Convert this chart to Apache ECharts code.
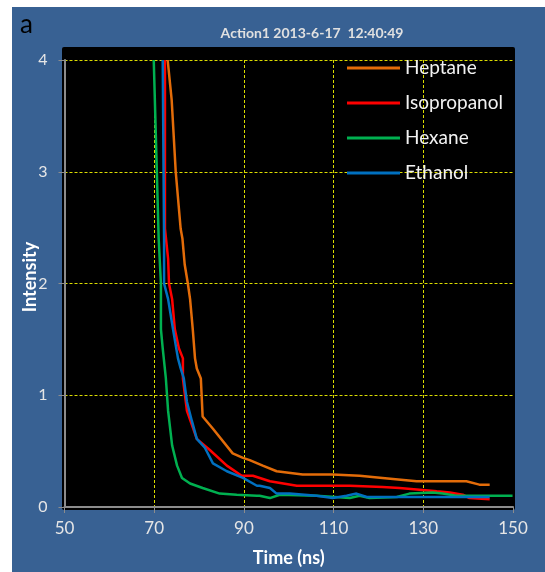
<!DOCTYPE html>
<html>
<head>
<meta charset="utf-8">
<script src="https://cdn.jsdelivr.net/npm/echarts@6/dist/echarts.min.js"></script>
<style>html,body{margin:0;padding:0;background:#fff}#c{width:545px;height:572px}</style>
</head>
<body>
<div id="c"></div>
<script>
var seriesNames = ['Heptane', 'Isopropanol', 'Hexane', 'Ethanol'];
var heptane = [[73.0,4.0],[73.9,3.64],[74.8,3.0],[75.9,2.49],[76.3,2.4],[76.8,2.17],[77.5,2.0],[78.0,1.86],[78.6,1.59],[79.1,1.33],[79.5,1.24],[80.4,1.15],[80.8,0.81],[83.1,0.70],[87.5,0.48],[89.8,0.44],[91.3,0.42],[94.2,0.37],[97.3,0.32],[103.1,0.29],[109.8,0.29],[115.8,0.28],[120.9,0.26],[128.5,0.23],[139.6,0.23],[142.5,0.20],[144.8,0.20]];
var isopropanol = [[72.4,4.0],[72.4,2.49],[73.1,2.22],[73.3,2.0],[74.0,1.86],[74.6,1.59],[75.5,1.42],[76.4,1.33],[76.4,1.15],[77.3,0.86],[79.5,0.61],[82.4,0.51],[86.2,0.37],[89.5,0.28],[92.0,0.28],[95.8,0.23],[101.8,0.19],[113.6,0.19],[120.9,0.18],[124.7,0.17],[133.0,0.14],[135.9,0.13],[138.8,0.11],[140.3,0.08],[144.8,0.07]];
var hexane = [[69.9,4.0],[71.0,2.4],[71.5,2.0],[71.5,1.59],[71.9,1.42],[72.6,1.15],[73.1,0.86],[74.0,0.55],[75.1,0.37],[76.2,0.26],[78.0,0.21],[80.8,0.17],[84.6,0.12],[88.4,0.11],[92.9,0.10],[93.5,0.10],[95.8,0.08],[98.0,0.11],[106.2,0.10],[113.6,0.08],[115.8,0.10],[118.0,0.08],[124.1,0.09],[126.9,0.12],[132.1,0.13],[134.3,0.12],[137.4,0.10],[143.2,0.10],[149.9,0.10]];
var ethanol = [[71.9,4.0],[72.2,2.4],[72.2,2.0],[73.1,1.86],[74.2,1.59],[75.3,1.33],[75.9,1.24],[76.6,1.15],[77.3,0.94],[78.4,0.77],[79.5,0.61],[81.3,0.53],[83.1,0.39],[86.2,0.32],[89.8,0.26],[92.9,0.19],[93.5,0.19],[95.8,0.17],[97.3,0.12],[100.2,0.12],[106.2,0.10],[109.8,0.08],[112.9,0.10],[115.1,0.12],[117.4,0.09],[128.5,0.09],[143.2,0.09],[144.8,0.09]];
var seriesData = [heptane, isopropanol, hexane, ethanol];
var colors = ['#E36C09', '#FF0000', '#00B050', '#0070C0'];

var FONT = 'Lato, "Liberation Sans", sans-serif';
var chart = echarts.init(document.getElementById('c'), null, {renderer: 'canvas'});
chart.setOption({
  backgroundColor: '#ffffff',
  animation: false,
  textStyle: {fontFamily: FONT},
  title: {
    text: 'Action1 2013-6-17  12:40:49',
    left: 307, top: 21, textAlign: 'center',
    textStyle: {color: '#E0E0E0', fontSize: 14, fontWeight: 'bold', fontFamily: FONT}
  },
  graphic: [
    {type: 'rect', z: -20, silent: true, shape: {x: 12, y: 7, width: 533, height: 565}, style: {fill: '#386193'}},
    {type: 'rect', z: -10, silent: true, shape: {x: 62, y: 47, width: 453, height: 463, r: 2}, style: {fill: '#000000'}},
    {type: 'text', z: 10, left: 20, top: 12, style: {text: 'a', fill: '#000', font: '26px ' + FONT}},
    {type: 'text', z: 10, x: 30, y: 277, rotation: Math.PI / 2,
      style: {text: 'Intensity', fill: '#FFFFFF', font: 'bold 18px ' + FONT, textAlign: 'center', textVerticalAlign: 'middle'}}
  ],
  legend: {
    orient: 'vertical',
    left: 347, top: 57,
    padding: 0,
    itemWidth: 53, itemHeight: 3, itemGap: 13,
    icon: 'rect',
    data: seriesNames,
    textStyle: {color: '#F2F2F2', fontSize: 19, lineHeight: 22, fontFamily: FONT, padding: [0,0,0,0]}
  },
  grid: {left: 64.5, right: 32, top: 60, bottom: 63},
  xAxis: {
    type: 'value', min: 50, max: 150, interval: 20,
    name: 'Time (ns)', nameLocation: 'middle', nameGap: 42,
    nameTextStyle: {color: '#FFFFFF', fontSize: 18, fontWeight: 'bold', fontFamily: FONT},
    axisLine: {show: true, lineStyle: {color: '#8C8C8C', width: 2}},
    axisTick: {show: true, length: 6, lineStyle: {color: '#8C8C8C', width: 1}},
    axisLabel: {color: '#E6E6E6', fontSize: 17, margin: 13, fontFamily: FONT},
    splitLine: {show: true, showMinLine: false, showMaxLine: false, lineStyle: {color: '#DCDC00', type: [3, 2], width: 1}}
  },
  yAxis: {
    type: 'value', min: 0, max: 4, interval: 1,
    axisLine: {show: true, lineStyle: {color: '#8C8C8C', width: 2}},
    axisTick: {show: true, length: 6, lineStyle: {color: '#8C8C8C', width: 1}},
    axisLabel: {color: '#E6E6E6', fontSize: 16, margin: 17, fontFamily: FONT},
    splitLine: {show: true, showMinLine: false, lineStyle: {color: '#DCDC00', type: [3, 2], width: 1}}
  },
  series: seriesNames.map(function (n, i) {
    return {
      name: n, type: 'line', data: seriesData[i],
      showSymbol: false, symbol: 'none', smooth: false,
      color: colors[i],
      lineStyle: {color: colors[i], width: 2.5}
    };
  })
});
</script>
</body>
</html>
